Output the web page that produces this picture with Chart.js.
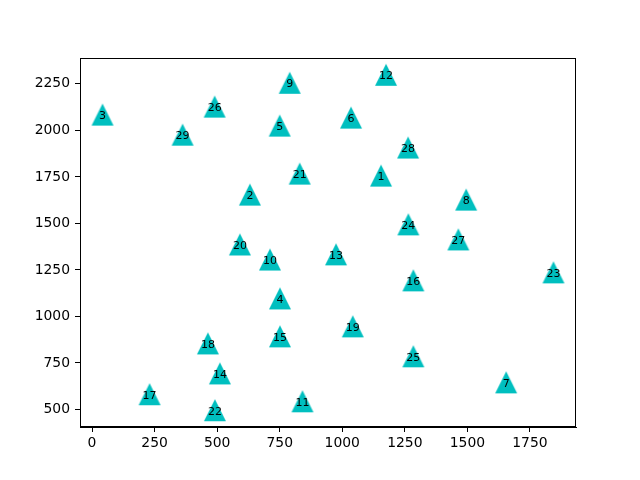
<!DOCTYPE html>
<html>
<head>
<meta charset="utf-8">
<script src="https://cdn.jsdelivr.net/npm/chart.js@4"></script>
<style>
html,body{margin:0;padding:0;background:#fff;}
#wrap{width:640px;height:480px;}
</style>
</head>
<body>
<div id="wrap"><canvas id="c" width="640" height="480"></canvas></div>
<script>
const pointLabels = ['1','2','3','4','5','6','7','8','9','10','11','12','13','14','15','16','17','18','19','20','21','22','23','24','25','26','27','28','29'];
const xValues = [1155,631,42,751,750,1035,1655,1495,790,711,841,1175,975,511,751,1284,230,463,1042,591,830,491,1844,1264,1284,490,1464,1263,362];
const yValues = [1757,1655,2085,1097,2026,2069,646,1628,2256,1306,544,2299,1334,694,893,1194,582,855,947,1387,1768,496,1237,1495,786,2128,1414,1908,1977];
const xTicks = [0,250,500,750,1000,1250,1500,1750];
const yTicks = [500,750,1000,1250,1500,1750,2000,2250];

const COLOR = '#00bfbf';

// isosceles triangle marker like matplotlib '^'
const tri = document.createElement('canvas');
tri.width = 24; tri.height = 24;
(function(){
  const g = tri.getContext('2d');
  g.fillStyle = COLOR;
  g.beginPath();
  g.moveTo(12, 1);
  g.lineTo(23, 23);
  g.lineTo(1, 23);
  g.closePath();
  g.fill();
})();

function padRange(arr){
  const mn = Math.min(...arr), mx = Math.max(...arr);
  const p = (mx - mn) * 0.05;
  return [mn - p, mx + p];
}
const [xMin, xMax] = padRange(xValues);
const [yMin, yMax] = padRange(yValues);

const points = xValues.map((x, i) => ({x: x, y: yValues[i]}));

const framePlugin = {
  id: 'frame',
  afterDraw(chart) {
    const a = chart.chartArea, ctx = chart.ctx;
    ctx.save();
    ctx.strokeStyle = '#000';
    ctx.lineWidth = 1;
    ctx.strokeRect(Math.round(a.left) + 0.5, Math.round(a.top) + 0.5,
                   Math.round(a.right - a.left) - 1, Math.round(a.bottom - a.top) - 1);
    ctx.restore();
  }
};

const labelPlugin = {
  id: 'ptlabels',
  afterDatasetsDraw(chart) {
    const ctx = chart.ctx;
    const xs = chart.scales.x, ys = chart.scales.y;
    ctx.save();
    ctx.fillStyle = '#000';
    ctx.font = '11px "DejaVu Sans"';
    ctx.textAlign = 'center';
    ctx.textBaseline = 'middle';
    pointLabels.forEach((t, i) => {
      const px = xs.getPixelForValue(xValues[i]);
      const py = ys.getPixelForValue(yValues[i]);
      ctx.fillText(t, px, py + 1.5);
    });
    ctx.restore();
  }
};

new Chart(document.getElementById('c'), {
  type: 'scatter',
  data: {
    datasets: [{
      data: points,
      pointStyle: tri,
      pointRadius: 11,
      backgroundColor: COLOR,
      borderColor: COLOR
    }]
  },
  options: {
    responsive: false,
    animation: false,
    events: [],
    layout: {padding: {left: 0, right: 64, top: 58, bottom: 0}},
    plugins: {legend: {display: false}, tooltip: {enabled: false}},
    scales: {
      x: {
        type: 'linear',
        min: xMin, max: xMax,
        afterBuildTicks(s){ s.ticks = xTicks.map(v => ({value: v})); },
        afterFit(s){ s.height = 53; },
        grid: {drawOnChartArea: false, drawTicks: true, tickLength: 5, color: '#000', lineWidth: 1},
        border: {display: true, color: '#000', width: 1},
        ticks: {color: '#000', font: {family: 'DejaVu Sans', size: 13.9}, padding: 3, maxRotation: 0, autoSkip: false,
                callback: v => String(v)}
      },
      y: {
        type: 'linear',
        min: yMin, max: yMax,
        afterBuildTicks(s){ s.ticks = yTicks.map(v => ({value: v})); },
        afterFit(s){ s.width = 80; },
        grid: {drawOnChartArea: false, drawTicks: true, tickLength: 5, color: '#000', lineWidth: 1},
        border: {display: true, color: '#000', width: 1},
        ticks: {color: '#000', font: {family: 'DejaVu Sans', size: 13.9}, padding: 5, autoSkip: false,
                callback: v => String(v)}
      }
    }
  },
  plugins: [framePlugin, labelPlugin]
});
</script>
</body>
</html>
